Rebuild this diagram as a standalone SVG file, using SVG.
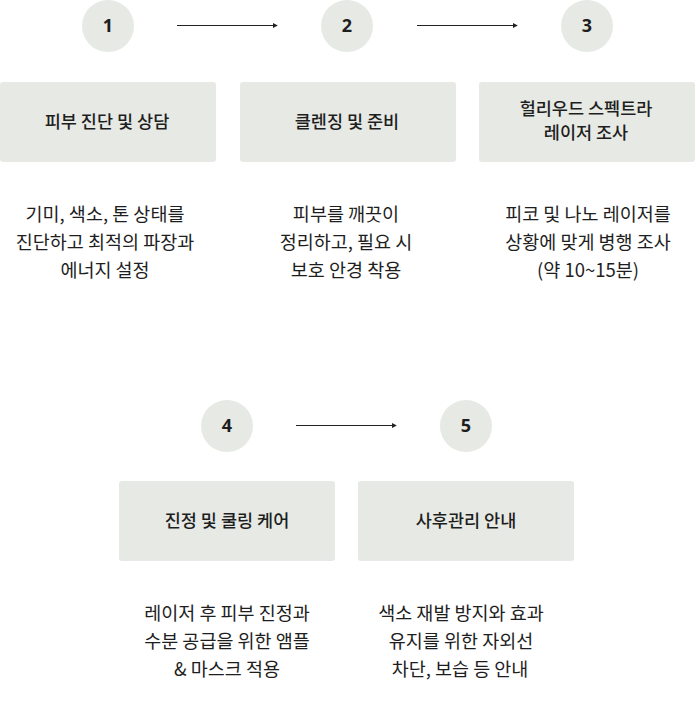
<svg xmlns="http://www.w3.org/2000/svg" width="696" height="715" viewBox="0 0 696 715">
<defs>
<style>
.bg{fill:#ffffff}
.circ{fill:#e6e9e4}
.box{fill:#e6e9e4}
.num{font-family:"Noto Sans","Noto Sans CJK KR",sans-serif;font-weight:700;font-size:18px;fill:#1e1e1e;text-anchor:middle}
.title{font-family:"Noto Sans CJK KR",sans-serif;font-weight:500;font-size:17.5px;fill:#1e1e1e;text-anchor:middle}
.desc{font-family:"Noto Sans CJK KR",sans-serif;font-weight:400;font-size:18.5px;fill:#1e1e1e;text-anchor:middle}
.conn{stroke:#222;stroke-width:1.2;fill:none;marker-end:url(#arr)}
</style>
<marker id="arr" viewBox="0 0 6 6" refX="5" refY="3" markerWidth="5" markerHeight="5" orient="auto" markerUnits="userSpaceOnUse">
<path d="M0,0 L6,3 L0,6 z" fill="#222"/>
</marker>
</defs>
<rect class="bg" x="0" y="0" width="696" height="715"/>
<g id="connectors">
<line class="conn" x1="177" y1="25.5" x2="277" y2="25.5"/>
<line class="conn" x1="417" y1="25.5" x2="517" y2="25.5"/>
<line class="conn" x1="296" y1="425.5" x2="396" y2="425.5"/>
</g>
<g id="step1">
<circle class="circ" cx="108" cy="26" r="26"/>
<text class="num" x="108" y="32">1</text>
<rect class="box" x="0" y="82" width="216" height="80" rx="3"/>
<text class="title" x="107" y="128">피부 진단 및 상담</text>
<text class="desc" x="105" y="221">기미, 색소, 톤 상태를</text>
<text class="desc" x="105" y="249">진단하고 최적의 파장과</text>
<text class="desc" x="105" y="277">에너지 설정</text>
</g>
<g id="step2">
<circle class="circ" cx="347" cy="26" r="26"/>
<text class="num" x="347" y="32">2</text>
<rect class="box" x="240" y="82" width="216" height="80" rx="3"/>
<text class="title" x="347" y="128">클렌징 및 준비</text>
<text class="desc" x="346" y="221">피부를 깨끗이</text>
<text class="desc" x="346" y="249">정리하고, 필요 시</text>
<text class="desc" x="346" y="277">보호 안경 착용</text>
</g>
<g id="step3">
<circle class="circ" cx="587" cy="26" r="26"/>
<text class="num" x="587" y="32">3</text>
<rect class="box" x="479" y="82" width="216" height="80" rx="3"/>
<text class="title" x="586" y="115">헐리우드 스펙트라</text>
<text class="title" x="586" y="139">레이저 조사</text>
<text class="desc" x="588" y="221">피코 및 나노 레이저를</text>
<text class="desc" x="588" y="249">상황에 맞게 병행 조사</text>
<text class="desc" x="588" y="277">(약 10~15분)</text>
</g>
<g id="step4">
<circle class="circ" cx="227" cy="426" r="26"/>
<text class="num" x="227" y="432">4</text>
<rect class="box" x="119" y="481" width="216" height="80" rx="3"/>
<text class="title" x="227" y="527">진정 및 쿨링 케어</text>
<text class="desc" x="227" y="620">레이저 후 피부 진정과</text>
<text class="desc" x="227" y="648">수분 공급을 위한 앰플</text>
<text class="desc" x="227" y="676">&amp; 마스크 적용</text>
</g>
<g id="step5">
<circle class="circ" cx="466" cy="426" r="26"/>
<text class="num" x="466" y="432">5</text>
<rect class="box" x="358" y="481" width="216" height="80" rx="3"/>
<text class="title" x="466" y="527">사후관리 안내</text>
<text class="desc" x="461" y="620">색소 재발 방지와 효과</text>
<text class="desc" x="461" y="648">유지를 위한 자외선</text>
<text class="desc" x="460" y="676">차단, 보습 등 안내</text>
</g>
</svg>
